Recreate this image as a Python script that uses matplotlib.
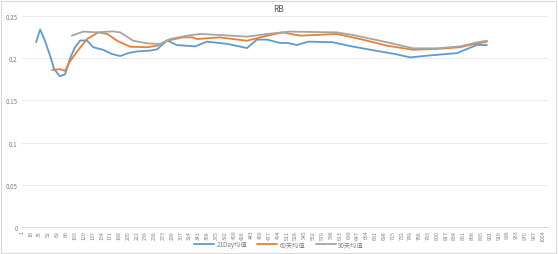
import matplotlib
matplotlib.use('Agg')
import matplotlib.pyplot as plt
from matplotlib.patches import Rectangle

plt.rcParams['font.family'] = ['Noto Sans CJK SC', 'DejaVu Sans']

# ------------------------------------------------------------
# Data (day index, value)
# ------------------------------------------------------------
ma21_days = [28, 36, 45, 55, 63, 74, 84, 93, 103, 113, 126, 138, 157, 174,
             190, 205, 222, 247, 261, 280, 299, 334, 357, 396, 434, 453, 473,
             498, 513, 530, 552, 598, 636, 681, 719, 748, 781, 838, 858, 877, 896]
ma21_vals = [0.219, 0.234, 0.221, 0.203, 0.187, 0.1785, 0.181, 0.199, 0.213,
             0.221, 0.221, 0.213, 0.210, 0.205, 0.2025, 0.206, 0.208, 0.209,
             0.2105, 0.221, 0.2156, 0.214, 0.2196, 0.217, 0.212, 0.222, 0.222,
             0.218, 0.218, 0.2156, 0.2196, 0.219, 0.214, 0.209, 0.205, 0.201,
             0.203, 0.206, 0.211, 0.2156, 0.2156]

ma60_days = [59, 74, 84, 93, 106, 126, 148, 165, 184, 209, 242, 261, 280, 311,
             330, 338, 382, 407, 434, 473, 503, 536, 607, 652, 704, 754, 800,
             844, 863, 896]
ma60_vals = [0.186, 0.187, 0.185, 0.196, 0.207, 0.2227, 0.2306, 0.2287, 0.2207,
             0.2136, 0.213, 0.2148, 0.2207, 0.2247, 0.2247, 0.2227, 0.2247,
             0.2227, 0.2207, 0.2267, 0.2306, 0.2267, 0.2287, 0.2227, 0.2148,
             0.210, 0.211, 0.213, 0.2156, 0.2196]

ma90_days = [97, 119, 145, 176, 190, 215, 242, 267, 286, 319, 344, 382, 434,
             473, 517, 607, 638, 704, 754, 800, 844, 877, 896]
ma90_vals = [0.2267, 0.2315, 0.2306, 0.2318, 0.2306, 0.2207, 0.2176, 0.2168,
             0.2227, 0.2267, 0.2287, 0.2275, 0.2255, 0.2287, 0.2315, 0.2306,
             0.2275, 0.2188, 0.2117, 0.2117, 0.214, 0.2188, 0.2207]

series_names = ['21Day均值', '60天均值', '90天均值']
series_colors = ['#5B9BD5', '#ED7D31', '#A5A5A5']
x_ticks = list(range(1, 1005, 17))
y_ticks = [0, 0.05, 0.1, 0.15, 0.2, 0.25]

# ------------------------------------------------------------
# Plot
# ------------------------------------------------------------
fig = plt.figure(figsize=(5.58, 2.55), dpi=100)
ax = fig.add_axes([22 / 558, 27 / 255, 526 / 558, 211 / 255])

for days, vals, name, color in zip([ma21_days, ma60_days, ma90_days],
                                   [ma21_vals, ma60_vals, ma90_vals],
                                   series_names, series_colors):
    ax.plot(days, vals, color=color, lw=1.3, label=name,
            solid_joinstyle='round', solid_capstyle='round')

ax.set_xlim(1, 1013.5)
ax.set_ylim(0, 0.25)
ax.set_yticks(y_ticks)
ax.set_yticklabels([f'{t:g}' for t in y_ticks])
ax.set_xticks(x_ticks)
ax.set_xticklabels([str(t) for t in x_ticks], rotation=90)
ax.tick_params(axis='y', length=0, labelsize=4.5, labelcolor='#808080', pad=3)
ax.tick_params(axis='x', length=0, labelsize=3.8, labelcolor='#808080', pad=2)
ax.grid(axis='y', color='#EAEAEA', lw=0.7)
ax.set_axisbelow(True)
for side in ['top', 'right', 'left']:
    ax.spines[side].set_visible(False)
ax.spines['bottom'].set_color('#D9D9D9')
ax.spines['bottom'].set_linewidth(0.7)

fig.text(0.5, 1 - 9 / 255, 'RB', ha='center', va='center',
         fontsize=6, color='#595959')
fig.legend(loc='center', bbox_to_anchor=(0.5, 9.5 / 255), ncol=3,
           frameon=False, fontsize=4.5, handlelength=3.2, handletextpad=0.4,
           columnspacing=1.6, labelcolor='#808080')

fig.patches.append(Rectangle((0.002, 0.004), 0.994, 0.99, transform=fig.transFigure,
                             fill=False, edgecolor='#D9D9D9', lw=0.8))

fig.savefig('out.png', dpi=100)
